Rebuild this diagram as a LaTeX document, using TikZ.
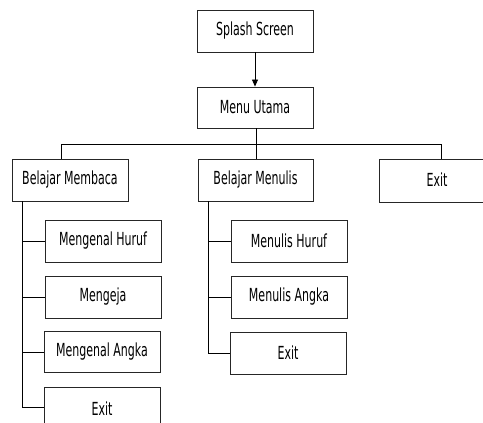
\documentclass[tikz,border=0pt]{standalone}
\usepackage{fontspec}
\setmainfont{DejaVu Sans Condensed}[FakeStretch=0.68]
\usetikzlibrary{arrows.meta}
\begin{document}
\begin{tikzpicture}[x=1pt,y=-1pt,
  box/.style={draw=black!85,line width=0.9pt,fill=white,inner sep=0pt,font=\fontsize{18}{20}\selectfont},
  link/.style={draw=black,line width=0.8pt}]
\useasboundingbox (0,0) rectangle (483,423);
\node[box,minimum width=116,minimum height=42] (splash) at (255,31) {Splash Screen};
\node[box,minimum width=116,minimum height=41] (menu) at (255,107.5) {Menu Utama};
\node[box,minimum width=116,minimum height=42] (baca) at (70,180) {Belajar Membaca};
\node[box,minimum width=115,minimum height=42] (tulis) at (255.5,180) {Belajar Menulis};
\node[box,minimum width=115,minimum height=43,anchor=north west] (exit) at (379,159) {\hspace*{0pt}};
\node[font=\fontsize{18}{20}\selectfont] (exittxt) at (437,180) {Exit};
% sub items membaca
\node[box,minimum width=116,minimum height=42] (huruf) at (103,241) {Mengenal Huruf};
\node[box,minimum width=116,minimum height=42] (eja) at (103,297) {Mengeja};
\node[box,minimum width=116,minimum height=41] (angka) at (102,351.5) {Mengenal Angka};
\node[box,minimum width=116,minimum height=42,anchor=north] (exit1) at (102,387) {Exit};
% sub items menulis
\node[box,minimum width=116,minimum height=42] (mhuruf) at (289,241) {Menulis Huruf};
\node[box,minimum width=116,minimum height=42] (mangka) at (289,297) {Menulis Angka};
\node[box,minimum width=116,minimum height=42] (exit2) at (288,353) {Exit};
% connectors
\draw[link,-{Triangle[length=7pt,width=6pt]}] (splash) -- (menu);
\coordinate (hub) at (256,144);
\draw[link] (menu.south -| hub) -- (hub);
\draw[link] (baca.north -| 61,0) -- (61,144) -- (441,144) -- (exit.north -| 441,0);
\draw[link] (hub) -- (tulis.north -| hub);
\coordinate (lv) at (22,0);
\draw[link] (baca.south -| lv) |- (exit1.west |- 0,407);
\draw[link] (lv |- huruf.west) -- (huruf.west);
\draw[link] (lv |- eja.west) -- (eja.west);
\coordinate (lva) at (22,352);
\draw[link] (lva) -- (angka.west |- lva);
\coordinate (rv) at (208,0);
\draw[link] (tulis.south -| rv) |- (exit2.west);
\draw[link] (rv |- mhuruf.west) -- (mhuruf.west);
\draw[link] (rv |- mangka.west) -- (mangka.west);
\end{tikzpicture}
\end{document}
